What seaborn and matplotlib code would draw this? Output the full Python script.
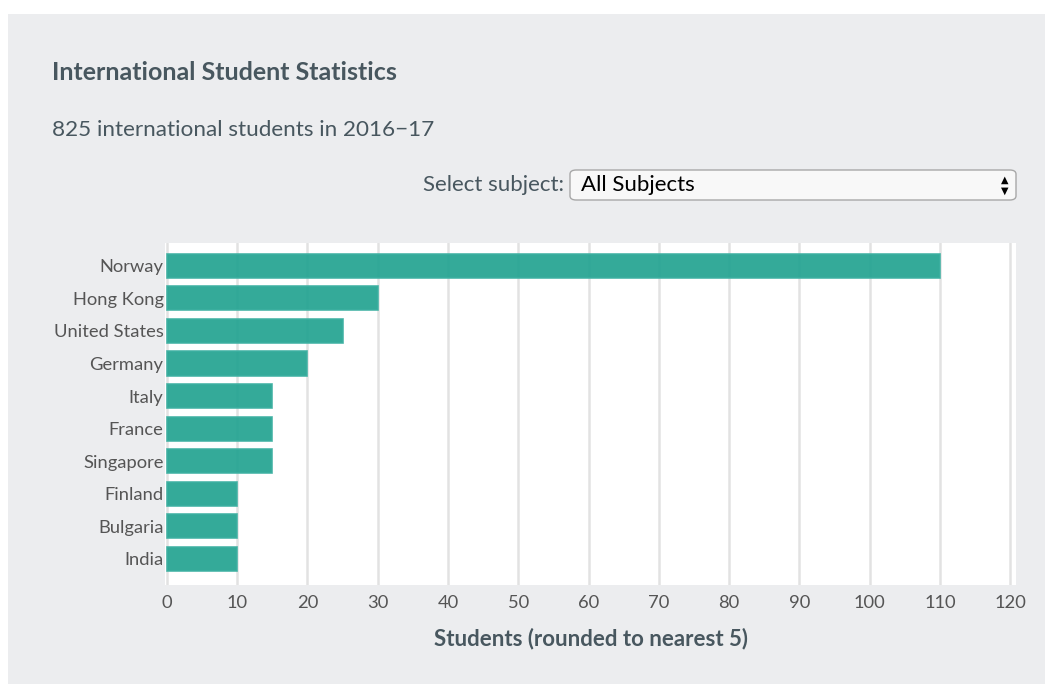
import numpy as np
import pandas as pd
import seaborn as sns
from matplotlib import pyplot as plt
from matplotlib.patches import Rectangle, FancyBboxPatch

countries = ['Norway', 'Hong Kong', 'United States', 'Germany', 'Italy',
             'France', 'Singapore', 'Finland', 'Bulgaria', 'India']
students = [110, 30, 25, 20, 15, 15, 15, 10, 10, 10]
x_ticks = [0, 10, 20, 30, 40, 50, 60, 70, 80, 90, 100, 110, 120]

df = pd.DataFrame({'country': countries, 'students': students})

W, H = 1045, 684
sns.set_style('white')
plt.rcParams['font.family'] = ['Lato', 'DejaVu Sans']

fig = plt.figure(figsize=(W / 100, H / 100), dpi=100)
fig.patch.set_facecolor('white')

# grey panel behind everything
fig.patches.append(Rectangle((8 / W, 0), (W - 8) / W, (H - 14) / H,
                             transform=fig.transFigure, facecolor='#ECEDEF',
                             edgecolor='none', zorder=-10))

def fx(px):
    return px / W

def fy(py):
    return 1 - py / H

fig.text(fx(52), fy(73), 'International Student Statistics', fontsize=18,
         fontweight='bold', color='#48575F', va='center', ha='left')
fig.text(fx(52), fy(130), '825 international students in 2016\u221217', fontsize=16.2,
         color='#48575F', va='center', ha='left')
fig.text(fx(564), fy(185), 'Select subject:', fontsize=16, color='#48575F',
         va='center', ha='right')

# dropdown box
fig.patches.append(FancyBboxPatch((fx(570), fy(200)), fx(1016 - 570), (200 - 170) / H,
                                  boxstyle='round,pad=0,rounding_size=0.006',
                                  transform=fig.transFigure, facecolor='#F8F8F8',
                                  edgecolor='#A8A8A8', linewidth=1.0))
fig.text(fx(581), fy(185), 'All Subjects', fontsize=16, color='black',
         va='center', ha='left')
fig.text(fx(1005), fy(180), '\u25B2', fontsize=7, color='black', va='center',
         ha='center', family='DejaVu Sans')
fig.text(fx(1005), fy(191), '\u25BC', fontsize=7, color='black', va='center',
         ha='center', family='DejaVu Sans')

ax = fig.add_axes([fx(165), fy(585), fx(1016 - 165), (585 - 243) / H])
ax.set_facecolor('white')
ax.set_axisbelow(True)
ax.grid(axis='x', color='#E2E2E2', linewidth=1.8)

sns.barplot(data=df, x='students', y='country', orient='h', ax=ax,
            color='#22A391', alpha=0.92, saturation=1, width=0.74,
            edgecolor='#3DB0A2', linewidth=1.2)

ax.set_xlim(-0.25, 120.8)
ax.set_ylim(9.8, -0.7)
ax.set_xticks(x_ticks)
ax.tick_params(axis='both', length=0, labelsize=13.2, labelcolor='#555555')
ax.tick_params(axis='y', pad=1)
ax.tick_params(axis='x', pad=7)
ax.set_ylabel('')
ax.set_xlabel('Students (rounded to nearest 5)', fontsize=16, fontweight='bold',
              color='#48575F', labelpad=12)
for s in ax.spines.values():
    s.set_visible(False)

fig.savefig('out.png', dpi=100, facecolor=fig.get_facecolor())
